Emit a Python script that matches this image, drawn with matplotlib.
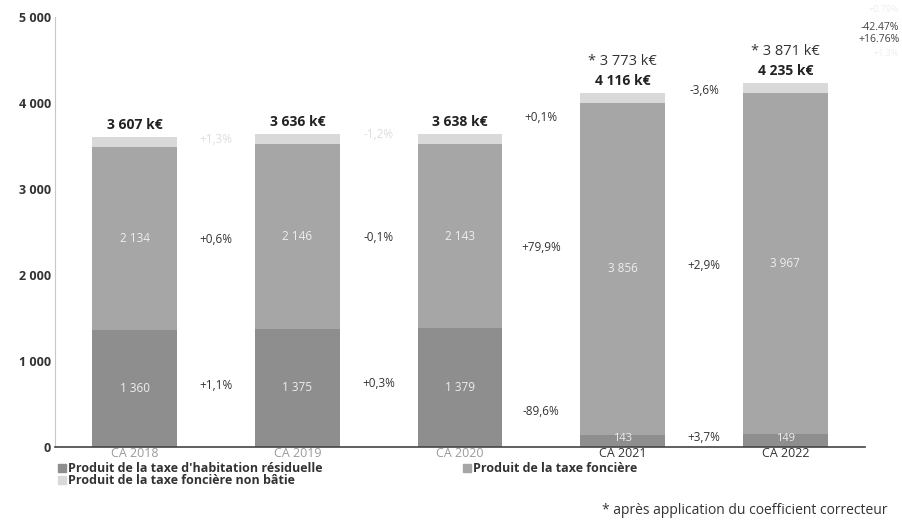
import matplotlib
matplotlib.use("Agg")
import matplotlib.pyplot as plt
from matplotlib.patches import Rectangle

plt.rcParams['font.family'] = ['Open Sans', 'DejaVu Sans']

categories = ["CA 2018", "CA 2019", "CA 2020", "CA 2021", "CA 2022"]
habitation = [1360, 1375, 1379, 143, 149]
fonciere = [2134, 2146, 2143, 3856, 3967]
non_batie = [113, 115, 116, 117, 119]
totals = [3607, 3636, 3638, 4116, 4235]
corrected = [None, None, None, 3773, 3871]
hab_labels = ["1 360", "1 375", "1 379", "143", "149"]
fon_labels = ["2 134", "2 146", "2 143", "3 856", "3 967"]
total_labels = ["3 607 k€", "3 636 k€", "3 638 k€", "4 116 k€", "4 235 k€"]
corr_labels = [None, None, None, "* 3 773 k€", "* 3 871 k€"]
pct_hab = ["+1,1%", "+0,3%", "-89,6%", "+3,7%"]
pct_fon = ["+0,6%", "-0,1%", "+79,9%", "+2,9%"]
pct_nb = ["+1,3%", "-1,2%", "+0,1%", "-3,6%"]
pct_hab_y = [720, 744, 407, 116]
pct_fon_y = [2407, 2440, 2314, 2116]
pct_nb_y = [3570, 3628, 3826, 4150]
nb_faint = [True, True, False, False]
yticks = [0, 1000, 2000, 3000, 4000, 5000]
ytick_labels = ["0", "1 000", "2 000", "3 000", "4 000", "5 000"]

c_hab = "#8e8e8e"
c_fon = "#a6a6a6"
c_nb = "#d9d9d9"

fig = plt.figure(figsize=(9.02, 5.22), dpi=100)
ax = fig.add_axes([55/902, 75/522, 810/902, 430/522])

x = list(range(len(categories)))
w = 0.52
ax.bar(x, habitation, w, color=c_hab)
ax.bar(x, fonciere, w, bottom=habitation, color=c_fon)
bot2 = [h + f for h, f in zip(habitation, fonciere)]
ax.bar(x, non_batie, w, bottom=bot2, color=c_nb)

ax.set_xlim(-0.49, 4.49)
ax.set_ylim(0, 5000)
ax.set_yticks(yticks)
ax.set_yticklabels(ytick_labels, fontsize=9, color="#333333", fontweight="bold")
ax.set_xticks(x)
ax.set_xticklabels(categories, fontsize=9)
for i, lab in enumerate(ax.get_xticklabels()):
    lab.set_color("#9a9a9a" if i < 3 else "#333333")
ax.tick_params(axis="y", length=0, pad=3)
ax.tick_params(axis="x", length=0, pad=0)
for s in ["top", "right"]:
    ax.spines[s].set_visible(False)
ax.spines["left"].set_color("#c8c8c8")
ax.spines["bottom"].set_color("#444444")
ax.spines["bottom"].set_linewidth(1.2)

for i in x:
    ax.text(i, habitation[i] / 2 if habitation[i] > 500 else habitation[i] / 2 + 25,
            hab_labels[i], ha="center", va="center", fontsize=8.5 if habitation[i] > 500 else 8,
            color="#eeeeee")
    ax.text(i, habitation[i] + fonciere[i] / 2, fon_labels[i], ha="center", va="center",
            fontsize=8.5, color="#eeeeee")
    ax.text(i, totals[i] + 60, total_labels[i], ha="center", va="bottom",
            fontsize=10, fontweight="bold", color="#222222")
    if corr_labels[i]:
        ax.text(i, totals[i] + 280, corr_labels[i], ha="center", va="bottom",
                fontsize=10.5, color="#333333")

for j in range(4):
    xm = j + 0.5
    ax.text(xm, pct_hab_y[j], pct_hab[j], ha="center", va="center", fontsize=8.5, color="#333333")
    ax.text(xm, pct_fon_y[j], pct_fon[j], ha="center", va="center", fontsize=8.5, color="#333333")
    ax.text(xm, pct_nb_y[j], pct_nb[j], ha="center", va="center", fontsize=8.5,
            color="#dddddd" if nb_faint[j] else "#333333")

# top-right faint annotations
fig.text(0.997, 1 - 27/522, "-42.47%", ha="right", va="center", fontsize=7.5, color="#444444")
fig.text(0.997, 1 - 40/522, "+16.76%", ha="right", va="center", fontsize=7.5, color="#444444")
fig.text(0.997, 1 - 9/522, "+0.79%", ha="right", va="center", fontsize=6.5, color="#eeeeee")
fig.text(0.997, 1 - 54/522, "+1.3%", ha="right", va="center", fontsize=6.5, color="#eeeeee")

# legend
items = [(c_hab, "Produit de la taxe d'habitation résiduelle", 58, 468),
         (c_nb, "Produit de la taxe foncière non bâtie", 58, 480),
         (c_fon, "Produit de la taxe foncière", 463, 468)]
for col, lab, px, py in items:
    fig.patches.append(Rectangle((px/902, 1 - (py + 4)/522), 8/902, 8/522,
                                 transform=fig.transFigure, color=col))
    fig.text((px + 10)/902, 1 - py/522, lab, ha="left", va="center", fontsize=9,
             fontweight="bold", color="#333333")

fig.text(888/902, 1 - 511/522, "* après application du coefficient correcteur",
         ha="right", va="center", fontsize=10, color="#333333")

fig.savefig("out.png", dpi=100, facecolor="white")
